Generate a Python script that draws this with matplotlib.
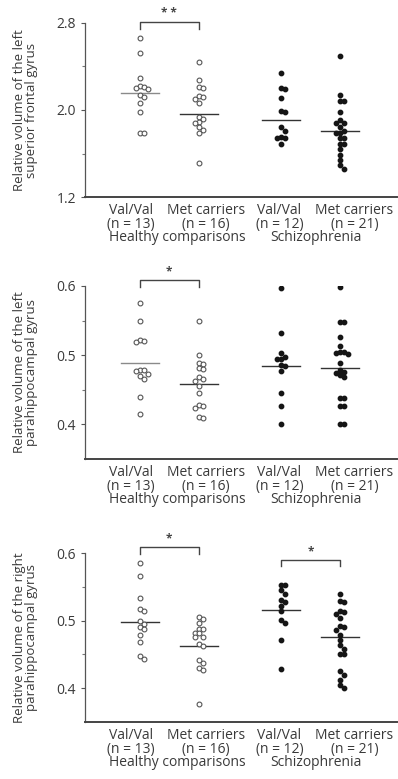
import numpy as np
import matplotlib
matplotlib.use('Agg')
import matplotlib.pyplot as plt


# categorias y etiquetas
grupos = ['Val/Val', 'Met carriers', 'Val/Val', 'Met carriers']
tamanos = ['(n = 13)', '(n = 16)', '(n = 12)', '(n = 21)']
diagnostico = ['Healthy comparisons', 'Schizophrenia']
posiciones = [1, 2, 3.4, 4.4]

ylabels = ['Relative volume of the left\nsuperior frontal gyrus',
           'Relative volume of the left\nparahippocampal gyrus',
           'Relative volume of the right\nparahippocampal gyrus']

# panel 1: giro frontal superior izquierdo
sfg_hc_val = [2.66, 2.52, 2.29, 2.22, 2.21, 2.20, 2.19, 2.14, 2.12, 2.06, 1.98, 1.79, 1.79]
sfg_hc_met = [2.44, 2.28, 2.21, 2.20, 2.13, 2.12, 2.10, 2.06, 1.94, 1.92, 1.89, 1.88,
              1.84, 1.82, 1.79, 1.51]
sfg_sz_val = [2.34, 2.20, 2.19, 2.11, 1.99, 1.98, 1.84, 1.81, 1.75, 1.74, 1.74, 1.69]
sfg_sz_met = [2.50, 2.14, 2.08, 2.08, 1.98, 1.91, 1.88, 1.88, 1.84, 1.81, 1.79, 1.79,
              1.74, 1.74, 1.69, 1.69, 1.64, 1.59, 1.54, 1.49, 1.46]
sfg_medias = [2.16, 1.96, 1.91, 1.81]

# panel 2: parahipocampal izquierdo
lph_hc_val = [0.576, 0.549, 0.522, 0.520, 0.519, 0.479, 0.478, 0.477, 0.473, 0.470,
              0.466, 0.440, 0.415]
lph_hc_met = [0.549, 0.500, 0.489, 0.487, 0.482, 0.480, 0.468, 0.466, 0.463, 0.456,
              0.446, 0.428, 0.426, 0.423, 0.411, 0.409]
lph_sz_val = [0.597, 0.532, 0.503, 0.497, 0.495, 0.494, 0.486, 0.484, 0.477, 0.445,
              0.426, 0.400]
lph_sz_met = [0.599, 0.548, 0.548, 0.526, 0.513, 0.505, 0.504, 0.503, 0.501, 0.489,
              0.479, 0.476, 0.474, 0.471, 0.468, 0.438, 0.438, 0.426, 0.426, 0.400, 0.400]
lph_medias = [0.489, 0.458, 0.485, 0.482]

# panel 3: parahipocampal derecho
rph_hc_val = [0.585, 0.566, 0.534, 0.517, 0.514, 0.499, 0.495, 0.491, 0.487, 0.479,
              0.468, 0.447, 0.443]
rph_hc_met = [0.506, 0.502, 0.496, 0.488, 0.487, 0.482, 0.481, 0.476, 0.475, 0.465,
              0.463, 0.441, 0.437, 0.430, 0.427, 0.377]
rph_sz_val = [0.553, 0.552, 0.546, 0.540, 0.530, 0.528, 0.521, 0.514, 0.501, 0.496,
              0.471, 0.428]
rph_sz_met = [0.540, 0.529, 0.528, 0.514, 0.513, 0.510, 0.504, 0.492, 0.491, 0.486,
              0.479, 0.472, 0.464, 0.458, 0.451, 0.450, 0.425, 0.419, 0.412, 0.405, 0.400]
rph_medias = [0.498, 0.463, 0.515, 0.476]

paneles = [
    dict(datos=[sfg_hc_val, sfg_hc_met, sfg_sz_val, sfg_sz_met], medias=sfg_medias,
         ylim=(1.2, 2.8), ticks=[1.2, 2.0, 2.8], minor=[1.6, 2.4],
         sig=[(0, 1, '* *', 2.812)]),
    dict(datos=[lph_hc_val, lph_hc_met, lph_sz_val, lph_sz_met], medias=lph_medias,
         ylim=(0.35, 0.6), ticks=[0.4, 0.5, 0.6], minor=[0.45, 0.55],
         sig=[(0, 1, '*', 0.609)]),
    dict(datos=[rph_hc_val, rph_hc_met, rph_sz_val, rph_sz_met], medias=rph_medias,
         ylim=(0.35, 0.6), ticks=[0.4, 0.5, 0.6], minor=[0.45, 0.55],
         sig=[(0, 1, '*', 0.609), (2, 3, '*', 0.5904)]),
]

# posicion de cada eje en la figura (fraccion)
cajas = [[0.2136, 0.7471, 0.785, 0.2234],
         [0.2136, 0.4108, 0.785, 0.2221],
         [0.2136, 0.0732, 0.785, 0.2169]]

# centros de las etiquetas de texto bajo el eje (unidades de x)
pos_texto = [0.85, 2.12, 3.37, 4.64]
pos_diag = [1.63, 3.98]

plt.rcParams['font.family'] = ['Open Sans', 'DejaVu Sans']
gris = '#3a3a3a'


# reparte puntos con valores parecidos a izquierda y derecha (tipo beeswarm)
def enjambre(valores, dy, dx):
    orden = np.argsort(valores)[::-1]
    colocados = []
    offs = np.zeros(len(valores))
    for i in orden:
        v = valores[i]
        for k in [0, 1, -1, 2, -2, 3, -3]:
            o = k * dx
            choca = any(abs(v - pv) < dy and abs(o - po) < dx * 0.9 for pv, po in colocados)
            if not choca:
                break
        offs[i] = o
        colocados.append((v, o))
    return offs


fig = plt.figure(figsize=(3.98, 7.79), dpi=100)

for p, caja, lab in zip(paneles, cajas, ylabels):
    ax = fig.add_axes(caja)
    lo, hi = p['ylim']
    dy = (hi - lo) * 4.5 / 174.0
    for j in range(4):
        vals = np.array(p['datos'][j])
        offs = enjambre(vals, dy, 0.068)
        if j < 2:
            ax.scatter(posiciones[j] + offs, vals, s=12, facecolors='white',
                       edgecolors='#555555', linewidths=0.8, zorder=3)
        else:
            ax.scatter(posiciones[j] + offs, vals, s=10, color='#151515', zorder=3)
        col = '#8a8a8a' if (j == 0 and p is not paneles[2]) else '#333333'
        ax.plot([posiciones[j] - 0.32, posiciones[j] + 0.32], [p['medias'][j]] * 2,
                color=col, lw=1.0, zorder=2)

    # corchetes de significacion
    for a, b, txt, yb in p['sig']:
        bajada = (hi - lo) * 0.04
        ax.plot([posiciones[a], posiciones[a], posiciones[b], posiciones[b]],
                [yb - bajada, yb, yb, yb - bajada], color='#444444', lw=1.0,
                clip_on=False)
        ax.text((posiciones[a] + posiciones[b]) / 2, yb + (hi - lo) * 0.008, txt,
                ha='center', va='bottom', fontsize=8.5, fontweight='bold',
                color='#444444')

    ax.set_xlim(0.07, 5.37)
    ax.set_ylim(lo, hi)
    ax.set_yticks(p['ticks'])
    ax.set_yticklabels(['%.1f' % t for t in p['ticks']])
    ax.set_yticks(p['minor'], minor=True)
    ax.tick_params(axis='y', which='major', length=3, width=0.8, colors='#555555',
                   labelcolor=gris, labelsize=10, pad=3.5)
    ax.tick_params(axis='y', which='minor', length=2, width=0.8, colors='#777777')
    ax.set_xticks([])
    for lado in ['top', 'right']:
        ax.spines[lado].set_visible(False)
    ax.spines['left'].set_color('#555555')
    ax.spines['left'].set_linewidth(0.9)
    ax.spines['bottom'].set_color('#444444')
    ax.spines['bottom'].set_linewidth(1.4)

    ax.set_ylabel(lab, fontsize=9.5, color=gris, linespacing=0.95)
    ax.yaxis.set_label_coords(-0.15, 0.5)

    # etiquetas de categoria bajo el eje (desplazadas en puntos)
    for j in range(4):
        ax.annotate(grupos[j], (pos_texto[j], 0), xycoords=('data', 'axes fraction'),
                    xytext=(0, -9.5), textcoords='offset points',
                    ha='center', va='center', fontsize=10, color=gris)
        ax.annotate(tamanos[j], (pos_texto[j], 0), xycoords=('data', 'axes fraction'),
                    xytext=(0, -19.5), textcoords='offset points',
                    ha='center', va='center', fontsize=10, color=gris)
    for k in range(2):
        ax.annotate(diagnostico[k], (pos_diag[k], 0), xycoords=('data', 'axes fraction'),
                    xytext=(0, -29.5), textcoords='offset points',
                    ha='center', va='center', fontsize=10, color=gris)

fig.savefig('out.png', dpi=100)
